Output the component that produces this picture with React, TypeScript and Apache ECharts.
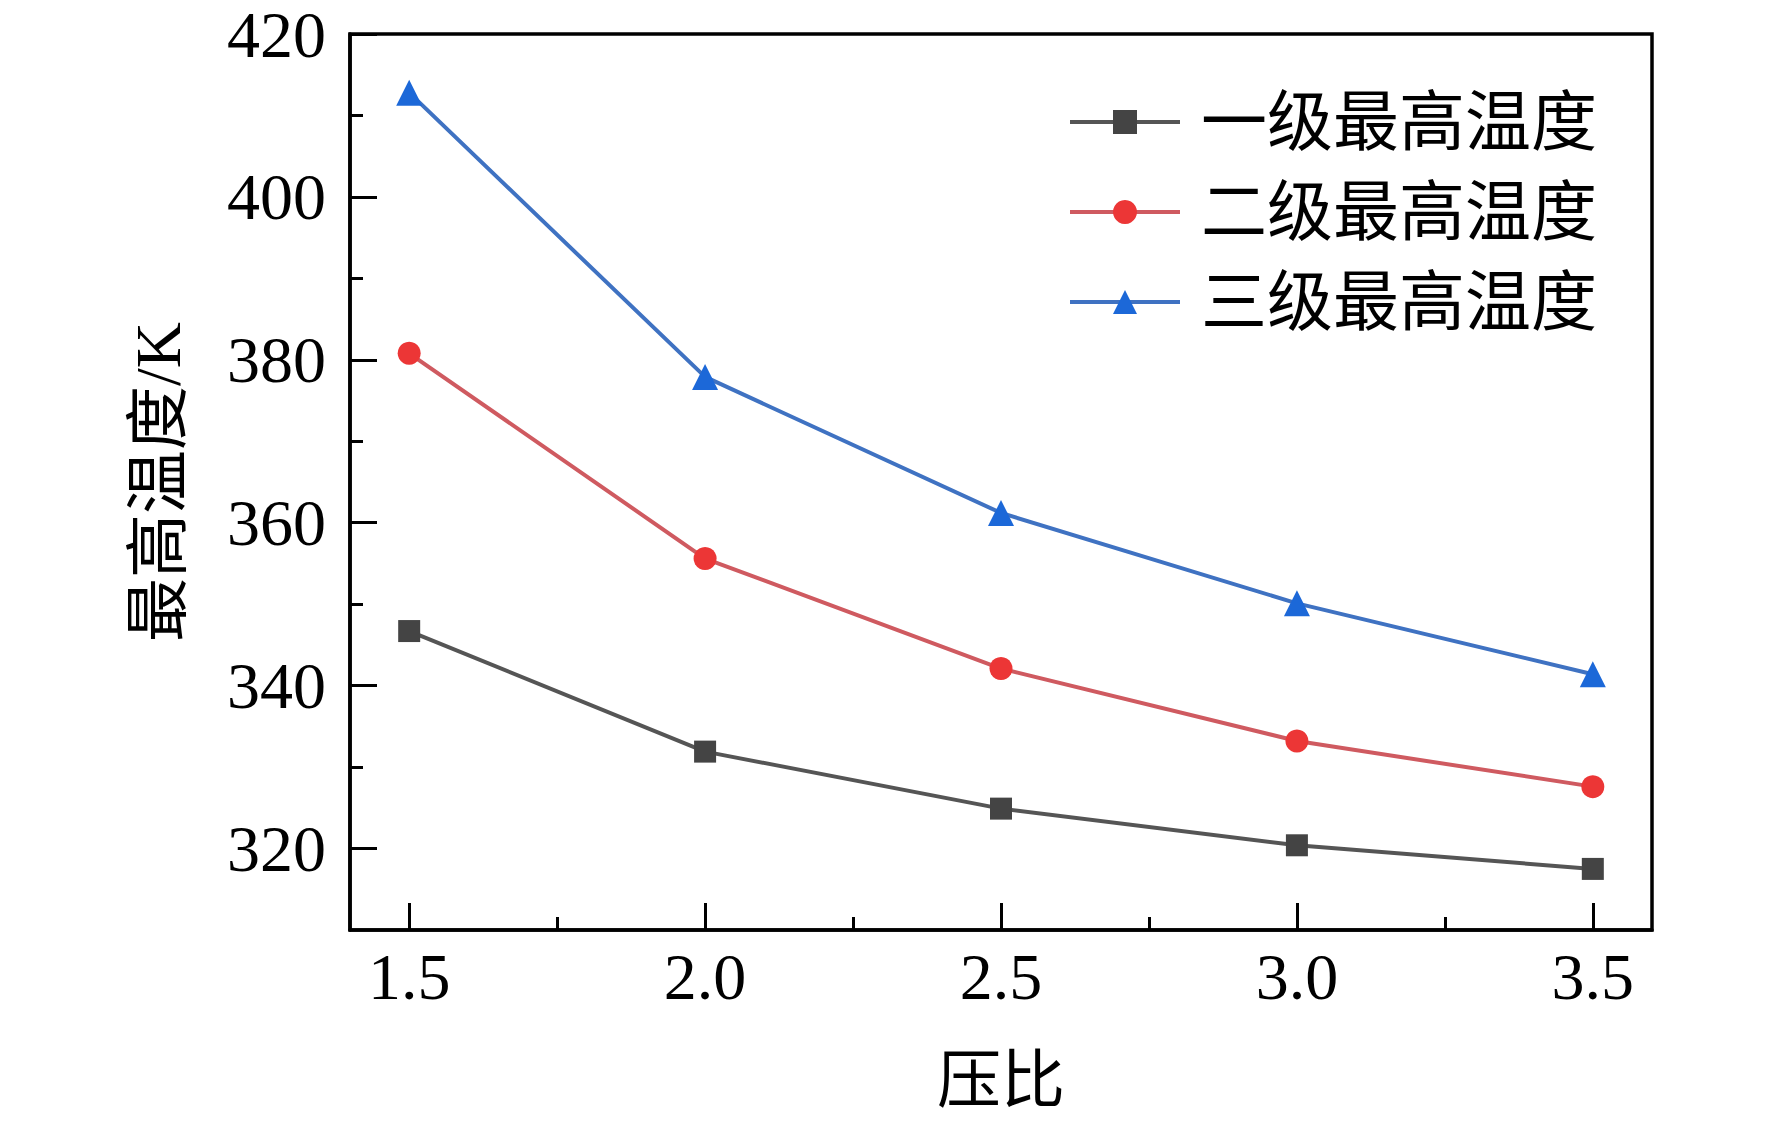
import React, { useEffect, useRef } from "react";
import * as echarts from "echarts";

const pressureRatios = [1.5, 2.0, 2.5, 3.0, 3.5];
const stage1Max = [346.7, 331.9, 324.9, 320.4, 317.5];
const stage2Max = [380.8, 355.6, 342.1, 333.2, 327.6];
const stage3Max = [412.8, 377.9, 361.2, 350.1, 341.4];
const seriesNames = ["一级最高温度", "二级最高温度", "三级最高温度"];
const yMajorTicks = [320, 340, 360, 380, 400, 420];
const yMinorTicks = [330, 350, 370, 390, 410];
const xMajorTicks = [1.5, 2.0, 2.5, 3.0, 3.5];
const xMinorTicks = [1.75, 2.25, 2.75, 3.25];

const FONT = '"Liberation Serif", "Times New Roman", "Noto Sans CJK SC", serif';

export default function App() {
  const ref = useRef<HTMLDivElement>(null);
  useEffect(() => {
    if (!ref.current) return;
    const chart = echarts.init(ref.current, undefined, { renderer: "svg" });
    const mk = (arr: number[]) => pressureRatios.map((x, i) => [x, arr[i]]);
    const lineCols = ["#555555", "#cf5a60", "#3f72c2"];
    const markCols = ["#444444", "#ec3636", "#1c68d8"];
    const symbols = ["rect", "circle", "triangle"];
    const sizes = [22, 23, 26];
    const datas = [stage1Max, stage2Max, stage3Max];
    chart.setOption({
      animation: false,
      backgroundColor: "#ffffff",
      textStyle: { fontFamily: FONT },
      grid: {
        left: 350,
        right: 120,
        top: 34,
        bottom: 197,
        show: true,
        borderColor: "#000",
        borderWidth: 3.5,
        backgroundColor: "transparent",
      },
      legend: {
        orient: "vertical",
        left: 1063,
        top: 84,
        itemWidth: 110,
        itemHeight: 30,
        itemGap: 24,
        data: seriesNames,
        lineStyle: { width: 4 },
        textStyle: {
          fontFamily: FONT,
          fontSize: 66,
          color: "#000",
          padding: [0, 0, 0, 16],
        },
      },
      xAxis: [
        {
          type: "value",
          min: 1.4,
          max: 3.6,
          name: "压比",
          nameLocation: "middle",
          nameGap: 118,
          nameTextStyle: { fontFamily: FONT, fontSize: 64, color: "#000" },
          axisLine: { show: true, lineStyle: { color: "#000", width: 3.5 } },
          axisTick: {
            show: true,
            inside: true,
            length: 27,
            customValues: xMajorTicks,
            lineStyle: { color: "#000", width: 3 },
          },
          axisLabel: {
            customValues: xMajorTicks,
            formatter: (v: number) => v.toFixed(1),
            fontFamily: FONT,
            fontSize: 66,
            color: "#000",
            margin: 13,
          },
          splitLine: { show: false },
        },
        {
          type: "value",
          min: 1.4,
          max: 3.6,
          position: "bottom",
          axisLine: { show: false },
          axisTick: {
            show: true,
            inside: true,
            length: 13,
            customValues: xMinorTicks,
            lineStyle: { color: "#000", width: 3 },
          },
          axisLabel: { show: false },
          splitLine: { show: false },
        },
      ],
      yAxis: [
        {
          type: "value",
          min: 310,
          max: 420,
          name: "最高温度/K",
          nameLocation: "middle",
          nameRotate: 90,
          nameGap: 160,
          nameTextStyle: { fontFamily: FONT, fontSize: 64, color: "#000" },
          axisLine: { show: true, lineStyle: { color: "#000", width: 3.5 } },
          axisTick: {
            show: true,
            inside: true,
            length: 27,
            customValues: yMajorTicks,
            lineStyle: { color: "#000", width: 3 },
          },
          axisLabel: {
            customValues: yMajorTicks,
            fontFamily: FONT,
            fontSize: 66,
            lineHeight: 50,
            color: "#000",
            margin: 24,
          },
          splitLine: { show: false },
        },
        {
          type: "value",
          min: 310,
          max: 420,
          position: "left",
          axisLine: { show: false },
          axisTick: {
            show: true,
            inside: true,
            length: 13,
            customValues: yMinorTicks,
            lineStyle: { color: "#000", width: 3 },
          },
          axisLabel: { show: false },
          splitLine: { show: false },
        },
      ],
      series: datas.map((d, i) => ({
        name: seriesNames[i],
        type: "line",
        xAxisIndex: 0,
        yAxisIndex: 0,
        data: mk(d),
        symbol: symbols[i],
        symbolSize: sizes[i],
        lineStyle: { color: lineCols[i], width: 4 },
        itemStyle: { color: markCols[i] },
      })),
    });
    return () => chart.dispose();
  }, []);
  return (
    <div
      ref={ref}
      style={{ position: "fixed", left: 0, top: 0, width: 1772, height: 1127, background: "#fff" }}
    />
  );
}
